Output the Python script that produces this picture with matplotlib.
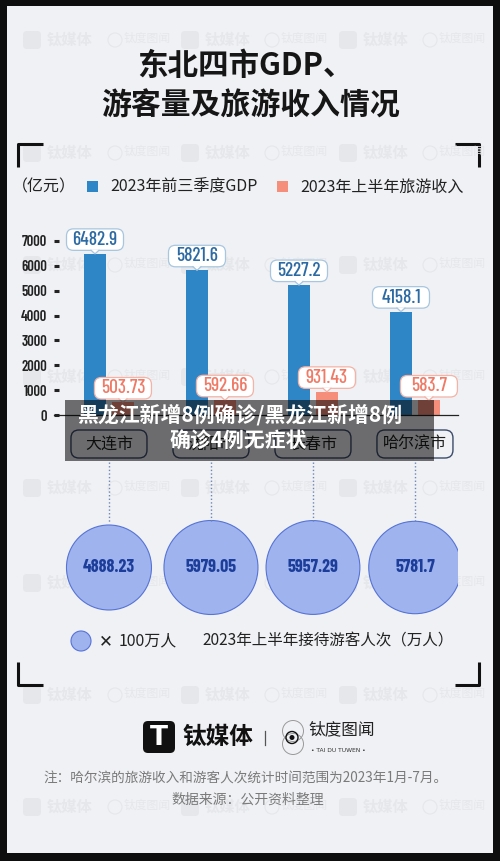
import numpy as np
import matplotlib.pyplot as plt
from matplotlib.patches import FancyBboxPatch, Rectangle, Circle, Polygon

cities = ['大连市', '沈阳市', '长春市', '哈尔滨市']
gdp = [6482.9, 5821.6, 5227.2, 4158.1]            # 2023年前三季度GDP（亿元）
tour_income = [503.73, 592.66, 931.43, 583.7]      # 2023年上半年旅游收入（亿元）
visitors = [4888.23, 5979.05, 5957.29, 5781.7]     # 2023年上半年接待游客人次（万人）
yticks = [0, 1000, 2000, 3000, 4000, 5000, 6000, 7000]

CJK = ['Noto Sans CJK SC', 'DejaVu Sans']
NUM = ['Barlow Condensed', 'Roboto Condensed', 'DejaVu Sans']
plt.rcParams['font.family'] = CJK

BG = '#eff1f4'
BLUE = '#2f86c6'
SALMON = '#f58f7c'
W, H = 500, 861


def rect(x0, y0, x1, y1):
    # pixel box (y down) -> figure fraction
    return [x0 / W, 1 - y1 / H, (x1 - x0) / W, (y1 - y0) / H]


fig = plt.figure(figsize=(5, 8.61), dpi=100, facecolor='#0e0e0e')

# background layer in pixel coordinates
bg = fig.add_axes([0, 0, 1, 1], zorder=0)
bg.set_xlim(0, W)
bg.set_ylim(H, 0)
bg.axis('off')
bg.add_patch(Rectangle((7, 6), 486, 847, fc=BG, ec='none'))

# faint watermarks
wm = '#e5e7ea'
for wy in [40, 153, 265, 377, 488, 583, 695, 807]:
    for wx in [23, 181, 339]:
        bg.add_patch(FancyBboxPatch((wx, wy - 9), 18, 18, boxstyle='round,pad=0,rounding_size=4',
                                    fc=wm, ec='none'))
        bg.text(wx + 24, wy, '钛媒体', fontsize=11, fontweight='bold', color=wm, va='center')
    for wx in [108, 265, 423]:
        bg.add_patch(Circle((wx + 7, wy), 7, fc='none', ec=wm, lw=0.8))
        bg.text(wx + 16, wy - 2, '钛度图闻', fontsize=8.5, color=wm, va='center')

# corner brackets
for (x0, y0, dx, dy) in [(18, 144, 25, 23), (479, 144, -24, 23), (18, 685, 25, -23), (479, 685, -24, -23)]:
    bg.plot([x0 + dx, x0, x0], [y0, y0, y0 + dy], color='#111', lw=2.2, solid_capstyle='butt')

# title
bg.text(245, 66, '东北四市GDP、', fontsize=22, fontweight='heavy', color='#161616', ha='center', va='center')
bg.text(250, 106, '游客量及旅游收入情况', fontsize=21.5, fontweight='heavy', color='#161616',
        ha='center', va='center')

# top legend
bg.text(12, 187, '（亿元）', fontsize=11.5, color='#222', va='center')
bg.add_patch(Rectangle((87, 181), 11, 11, fc=BLUE, ec='none'))
bg.text(110, 187, '2023年前三季度GDP', fontsize=11.5, color='#222', va='center')
bg.add_patch(Rectangle((277, 181), 11, 11, fc=SALMON, ec='none'))
bg.text(300, 187, '2023年上半年旅游收入', fontsize=11.5, color='#222', va='center')

# bar chart
ax = fig.add_axes(rect(54, 241, 458, 415), zorder=1)
ax.set_facecolor('none')
x = np.arange(len(cities))
bw = 0.216
ax.bar(x - 0.137, gdp, bw, color=BLUE, zorder=2)
ax.bar(x + 0.137, tour_income, bw, color=SALMON, zorder=2)
ax.set_xlim(-0.539, 3.422)
ax.set_ylim(0, 7000)
ax.axhline(0, color='#222', lw=0.9, clip_on=False)
for s in ax.spines.values():
    s.set_visible(False)
ax.set_xticks([])
ax.set_yticks(yticks)
ax.set_yticklabels([str(t) for t in yticks], family=NUM, fontweight=600, fontsize=10.5, color='#222')
ax.tick_params(axis='y', direction='in', length=3.4, width=2.2, color='#222', pad=5)

# bubble row
bx = fig.add_axes(rect(54, 505, 458, 630), zorder=1)
bx.set_facecolor('none')
bx.axis('off')
bx.set_xlim(ax.get_xlim())
bx.set_ylim(-1, 1)
bx.scatter(x, np.zeros(len(x)), s=np.array(visitors) * 0.766, color='#9fb4ee',
           edgecolor='#5673d6', linewidth=0.8, zorder=2)
for xi, v in zip(x, visitors):
    bx.text(xi, 0, f'{v:.2f}'.rstrip('0'), family=NUM, fontweight=700,
            fontsize=13, color='#1c3d9a', ha='center', va='center', zorder=3)

# overlay layer in pixel coordinates
ov = fig.add_axes([0, 0, 1, 1], zorder=3)
ov.set_xlim(0, W)
ov.set_ylim(H, 0)
ov.axis('off')
to_px = lambda px, py: ov.transData.inverted().transform(ax.transData.transform((px, py)))


def callout(xd, val, text, tc, ec):
    xt, yt = to_px(xd, val)
    ov.add_patch(FancyBboxPatch((xt - 28.5, yt - 25), 57, 21.5, boxstyle='round,pad=0,rounding_size=7',
                                fc='white', ec=ec, lw=0.9, zorder=3))
    ov.add_patch(Polygon([(xt - 4, yt - 4.2), (xt + 4, yt - 4.2), (xt, yt)], closed=True,
                         fc='white', ec='none', zorder=4))
    ov.plot([xt - 4, xt, xt + 4], [yt - 3.6, yt, yt - 3.6], color=ec, lw=0.9, zorder=4)
    ov.text(xt, yt - 14, text, family=NUM, fontweight=500, fontsize=14, color=tc,
            ha='center', va='center', zorder=5)


for xi, g, t in zip(x, gdp, tour_income):
    callout(xi - 0.137, g, f'{g:g}', '#2b6aa3', '#a8c6df')
    callout(xi + 0.137, t, f'{t:g}', '#ef7a66', '#f4b3a6')

# city labels and dotted connectors
for xi, c in zip(x, cities):
    cx = to_px(xi, 0)[0]
    ov.add_patch(FancyBboxPatch((cx - 38, 430), 76, 28, boxstyle='round,pad=0,rounding_size=8',
                                fc='none', ec='#3b4b6b', lw=1.0, zorder=3))
    ov.text(cx, 444, c, fontsize=11.5, color='#1e1e1e', ha='center', va='center', zorder=3)
    ov.plot([cx, cx], [462, 522], color='#6f86b8', lw=1.0, linestyle=(0, (1, 1.6)), zorder=2)

# news banner overlaid on the screenshot
ov.add_patch(Rectangle((65, 400), 369, 61, fc='black', alpha=0.55, ec='none', zorder=10))
ov.text(240, 415, '黑龙江新增8例确诊/黑龙江新增8例', fontsize=15, fontweight='heavy', color='white',
        ha='center', va='center', zorder=11)
ov.text(238, 441, '确诊4例无症状', fontsize=15, fontweight='heavy', color='white',
        ha='center', va='center', zorder=11)

# bubble legend
ov.add_patch(Circle((81, 641), 10, fc='#9fb4ee', ec='#5673d6', lw=0.8))
ov.text(99, 641, '✕', family=['DejaVu Sans'], fontsize=12, color='#222', va='center')
ov.text(119, 641, '100万人', fontsize=11.5, color='#222', va='center')
ov.text(202, 641, '2023年上半年接待游客人次（万人）', fontsize=11.2, color='#222', va='center')

# logos
ov.add_patch(FancyBboxPatch((143, 721), 32, 32, boxstyle='round,pad=0,rounding_size=5', fc='#111', ec='none'))
ov.text(159, 738, 'T', family=['DejaVu Sans'], fontsize=19, fontweight='bold', color='white',
        ha='center', va='center')
ov.text(182, 737, '钛媒体', fontsize=17, fontweight='heavy', color='#111', va='center')
ov.plot([265, 265], [731, 745], color='#555', lw=0.9)
ov.add_patch(Circle((293, 731), 10.5, fc='none', ec='#999', lw=0.7))
ov.add_patch(Circle((293, 744), 10.5, fc='none', ec='#999', lw=0.7))
ov.add_patch(Circle((292, 737.5), 6, fc='none', ec='#111', lw=1.0))
ov.add_patch(Circle((292, 737.5), 2.5, fc='#111', ec='none'))
ov.text(308, 730, '钛度图闻', fontsize=12, fontweight='light', color='#222', va='center')
ov.text(338, 750, '• TAI DU TUWEN •', family=['DejaVu Sans'], fontsize=4.3, color='#333',
        ha='center', va='center')

# footnotes
ov.text(245, 779, '注：哈尔滨的旅游收入和游客人次统计时间范围为2023年1月-7月。', fontsize=9.8,
        color='#7a7a7a', ha='center', va='center')
ov.text(248, 800, '数据来源：公开资料整理', fontsize=10, color='#7a7a7a', ha='center', va='center')

fig.savefig('out.png', dpi=100, facecolor=fig.get_facecolor())
